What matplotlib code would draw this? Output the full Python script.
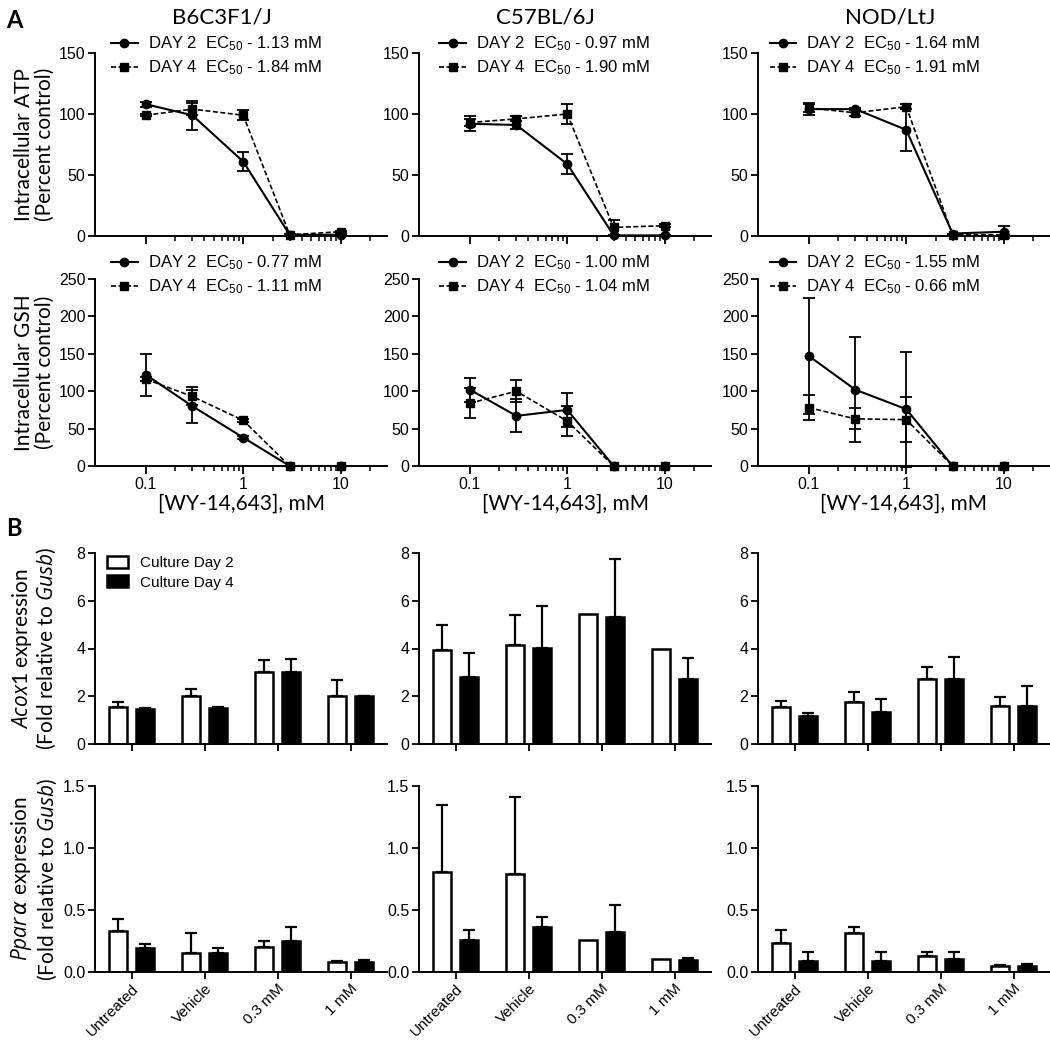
import numpy as np
import matplotlib
matplotlib.use('Agg')
import matplotlib.pyplot as plt
from matplotlib.lines import Line2D
from matplotlib.ticker import FixedLocator, NullFormatter

plt.rcParams['font.family'] = ['Liberation Sans', 'DejaVu Sans']
plt.rcParams['mathtext.fontset'] = 'custom'
plt.rcParams['mathtext.rm'] = 'Lato'
plt.rcParams['mathtext.it'] = 'Open Sans:italic'
plt.rcParams['mathtext.sf'] = 'DejaVu Sans:italic'
plt.rcParams['axes.linewidth'] = 1.4

LABEL_FONT = ['Lato', 'DejaVu Sans']

strains = ['B6C3F1/J', 'C57BL/6J', 'NOD/LtJ']
conc = [0.1, 0.3, 1, 3, 10]

# intracellular ATP (% control)
atp_d2 = [[108, 99, 61, 1, 1], [92, 91, 59, 0.5, 0.5], [104, 104, 87, 2, 3.5]]
atp_d2_err = [[2, 12, 8, 0, 0], [6, 3, 8, 0, 0], [5, 1, 17, 0, 5]]
atp_d4 = [[99, 104, 99, 1, 3.5], [93, 96, 100, 7, 8.5], [105, 101, 106, 1, 1]]
atp_d4_err = [[1, 5, 4, 1, 1], [3, 2, 8, 6, 1], [3, 3, 2, 0, 0]]
atp_ec50 = [('1.13', '1.84'), ('0.97', '1.90'), ('1.64', '1.91')]

# intracellular GSH (% control)
gsh_d2 = [[122, 80, 38, 0, 0], [102, 67, 75, 0, 0], [147, 102, 76, 0, 0]]
gsh_d2_err = [[28, 22, 2, 0, 0], [16, 22, 23, 0, 0], [78, 70, 77, 0, 0]]
gsh_d4 = [[116, 93, 61, 0, 0], [84, 100, 60, 0, 0], [78, 63, 62, 0, 0]]
gsh_d4_err = [[3, 12, 2, 0, 0], [20, 15, 20, 0, 0], [17, 14, 30, 0, 0]]
gsh_ec50 = [('0.77', '1.11'), ('1.00', '1.04'), ('1.55', '0.66')]

treatments = ['Untreated', 'Vehicle', '0.3 mM', '1 mM']

# Acox1 fold expression
acox_d2 = [[1.57, 2.03, 3.03, 1.99], [3.95, 4.15, 5.44, 3.98], [1.54, 1.78, 2.74, 1.61]]
acox_d2_err = [[0.18, 0.26, 0.47, 0.70], [1.05, 1.25, 0, 0], [0.26, 0.40, 0.48, 0.35]]
acox_d4 = [[1.45, 1.52, 3.03, 1.99], [2.82, 4.04, 5.34, 2.72], [1.18, 1.36, 2.74, 1.61]]
acox_d4_err = [[0.07, 0.03, 0.54, 0.02], [0.99, 1.72, 2.39, 0.88], [0.10, 0.52, 0.90, 0.82]]

# Ppara fold expression
ppar_d2 = [[0.33, 0.15, 0.20, 0.08], [0.81, 0.79, 0.26, 0.107], [0.236, 0.317, 0.126, 0.046]]
ppar_d2_err = [[0.10, 0.165, 0.048, 0.01], [0.54, 0.62, 0, 0], [0.10, 0.043, 0.032, 0.01]]
ppar_d4 = [[0.19, 0.15, 0.253, 0.08], [0.26, 0.36, 0.32, 0.094], [0.089, 0.089, 0.107, 0.05]]
ppar_d4_err = [[0.036, 0.04, 0.107, 0.02], [0.08, 0.085, 0.22, 0.02], [0.071, 0.075, 0.057, 0.017]]

W, H = 1050, 1044
fig = plt.figure(figsize=(W / 100, H / 100), dpi=100)

col_left = [95, 419, 758]
col_width = 292
rows = [(53, 236), (279, 466), (553, 744), (786, 972)]
leg_x = [0.055, 0.07, 0.04]


def make_ax(r, c):
    top, bot = rows[r]
    ax = fig.add_axes([col_left[c] / W, 1 - bot / H, col_width / W, (bot - top) / H])
    for s in ['top', 'right']:
        ax.spines[s].set_visible(False)
    ax.tick_params(direction='out', length=5, width=1.3, labelsize=11.5, pad=2)
    ax.tick_params(which='minor', direction='out', length=3.5, width=1.1)
    return ax


def line_panel(ax, d2, e2, d4, e4, ec, ymax, ystep, show_x, lx, ly):
    ax.errorbar(conc, d2, yerr=e2, fmt='-o', color='k', ms=6, lw=1.5,
                elinewidth=1.3, capsize=4, capthick=1.3, clip_on=False)
    ax.errorbar(conc, d4, yerr=e4, fmt='--s', color='k', ms=5.5, lw=1.2,
                dashes=(3, 1.5), elinewidth=1.3, capsize=4, capthick=1.3, clip_on=False)
    ax.set_xscale('log')
    ax.set_xlim(0.03, 30)
    ax.set_ylim(0, ymax)
    ax.set_yticks(np.arange(0, ymax + 1, ystep))
    ax.xaxis.set_major_locator(FixedLocator([0.1, 1, 10]))
    minors = [m * d for d in (0.1, 1) for m in range(2, 10)] + [20]
    ax.xaxis.set_minor_locator(FixedLocator(minors))
    ax.xaxis.set_minor_formatter(NullFormatter())
    ax.tick_params(axis='x', which='major', length=6)
    if show_x:
        ax.set_xticklabels(['0.1', '1', '10'])
        ax.set_xlabel('[WY-14,643], mM', family=LABEL_FONT, fontsize=15, labelpad=1)
    else:
        ax.set_xticklabels([])
    handles = [Line2D([], [], color='k', marker='o', ms=6, lw=1.5),
               Line2D([], [], color='k', marker='s', ms=5.5, lw=1.2, ls='--',
                      dashes=(3, 1.5))]
    labels = [f'DAY 2  EC$_{{\\mathregular{{50}}}}$ - {ec[0]} mM',
              f'DAY 4  EC$_{{\\mathregular{{50}}}}$ - {ec[1]} mM']
    ax.legend(handles, labels, loc='upper left', bbox_to_anchor=(lx, ly),
              frameon=False, fontsize=12, handlelength=1.6, handletextpad=0.6,
              labelspacing=0.3, borderaxespad=0, borderpad=0)


def bar_panel(ax, d2, e2, d4, e4, ymax, ystep, fmt, show_x, legend):
    x = np.arange(len(treatments))
    off, bw = 0.185, 0.25
    ax.bar(x - off, d2, bw, color='white', edgecolor='k', lw=1.8, zorder=2,
           label='Culture Day 2')
    ax.bar(x + off, d4, bw, color='k', edgecolor='k', lw=1.8, zorder=2,
           label='Culture Day 4')
    for xs, ys, es in ((x - off, d2, e2), (x + off, d4, e4)):
        ys, es = np.array(ys), np.array(es)
        m = es > 0
        ax.errorbar(xs[m], ys[m], yerr=[np.zeros(m.sum()), es[m]], fmt='none',
                    ecolor='k', elinewidth=1.6, capsize=4, capthick=1.6, zorder=1)
    ax.set_xlim(-0.5, 3.5)
    ax.set_ylim(0, ymax)
    ticks = np.arange(0, ymax + 1e-9, ystep)
    ax.set_yticks(ticks)
    ax.set_yticklabels([fmt.format(t) for t in ticks])
    ax.set_xticks(x)
    if show_x:
        ax.set_xticklabels(treatments, rotation=45, ha='right', rotation_mode='anchor',
                           fontsize=11)
    else:
        ax.set_xticklabels([])
    if legend:
        ax.legend(loc='upper left', bbox_to_anchor=(0.04, 0.985), frameon=False,
                  fontsize=11, handlelength=1.4, handleheight=0.8,
                  handletextpad=0.8, labelspacing=0.35, borderaxespad=0, borderpad=0)


for c in range(3):
    ax = make_ax(0, c)
    line_panel(ax, atp_d2[c], atp_d2_err[c], atp_d4[c], atp_d4_err[c], atp_ec50[c],
               150, 50, False, leg_x[c], 1.10)
    ax = make_ax(1, c)
    line_panel(ax, gsh_d2[c], gsh_d2_err[c], gsh_d4[c], gsh_d4_err[c], gsh_ec50[c],
               250, 50, True, leg_x[c], 1.135)
    ax = make_ax(2, c)
    bar_panel(ax, acox_d2[c], acox_d2_err[c], acox_d4[c], acox_d4_err[c],
              8, 2, '{:.0f}', False, c == 0)
    ax = make_ax(3, c)
    bar_panel(ax, ppar_d2[c], ppar_d2_err[c], ppar_d4[c], ppar_d4_err[c],
              1.5, 0.5, '{:.1f}', True, False)

# column titles
for xc, name in zip([222, 545, 890], strains):
    fig.text(xc / W, 1 - 17 / H, name, family=LABEL_FONT, fontsize=16,
             ha='center', va='center')

# panel letters
fig.text(14 / W, 1 - 20 / H, 'A', family=LABEL_FONT, fontsize=17, weight='bold',
         ha='center', va='center')
fig.text(14 / W, 1 - 528 / H, 'B', family=LABEL_FONT, fontsize=17, weight='bold',
         ha='center', va='center')

# row labels
ylabels = ['Intracellular ATP\n(Percent control)',
           'Intracellular GSH\n(Percent control)',
           '$\\mathit{Acox1}$ expression\n(Fold relative to $\\mathit{Gusb}$)',
           '$\\mathit{Ppar}\\,\\mathsf{\\alpha}$ expression\n(Fold relative to $\\mathit{Gusb}$)']
for (top, bot), lab in zip(rows, ylabels):
    fig.text(34 / W, 1 - (top + bot) / 2 / H, lab, family=LABEL_FONT, fontsize=15,
             rotation=90, ha='center', va='center', linespacing=1.05,
             multialignment='center')

fig.savefig('out.png', dpi=100)
